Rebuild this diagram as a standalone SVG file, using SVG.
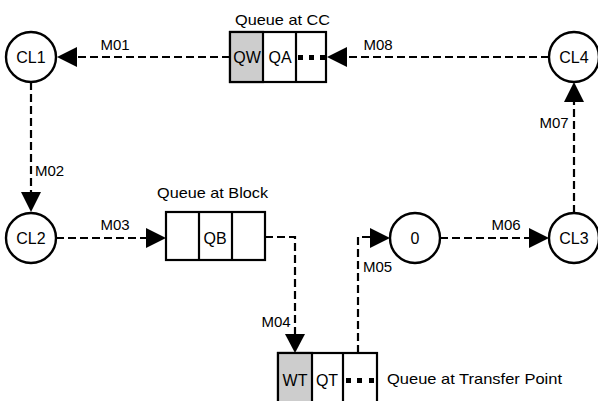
<svg xmlns="http://www.w3.org/2000/svg" width="598" height="401" viewBox="0 0 598 401">
<defs>
<style>
.node{fill:#fff;stroke:#000;stroke-width:2.4}
.box{fill:#fff;stroke:#000;stroke-width:2.2}
.shade{fill:#cdcdcd;stroke:#000;stroke-width:2.2}
.c{fill:none;stroke:#000;stroke-width:2.2;stroke-dasharray:8 4}
.ah{fill:#000}
text{font-family:"Liberation Sans",Arial,sans-serif;font-size:15px;fill:#000}
.n{font-size:16px}
.m{text-anchor:middle}
</style>
</defs>
<rect width="598" height="401" fill="#fff"/>
<g id="connectors">
<path class="c" d="M230,57 H76"/>
<polygon class="ah" points="57,57 77,47 77,67"/>
<path class="c" d="M549,57 H347"/>
<polygon class="ah" points="327,57 347,47 347,67"/>
<path class="c" d="M574,213 V102"/>
<polygon class="ah" points="574,82 564,102 584,102"/>
<path class="c" d="M31,82 V192"/>
<polygon class="ah" points="31,212 21,192 41,192"/>
<path class="c" d="M56,238 H147"/>
<polygon class="ah" points="166,238 146,228 146,248"/>
<path class="c" d="M265,237 H295 V335"/>
<polygon class="ah" points="295,353 285,334 305,334"/>
<path class="c" d="M358,353 V237 H371"/>
<polygon class="ah" points="390,238 370,228 370,248"/>
<path class="c" d="M440,238 H530"/>
<polygon class="ah" points="549,238 529,228 529,248"/>
<text x="115" y="50" class="m">M01</text>
<text x="378" y="50" class="m">M08</text>
<text x="35" y="176">M02</text>
<text x="115" y="230" class="m">M03</text>
<text x="276" y="327" class="m">M04</text>
<text x="363" y="272">M05</text>
<text x="506" y="230" class="m">M06</text>
<text x="554" y="128" class="m">M07</text>
</g>
<g id="CL1"><circle class="node" cx="31" cy="57" r="25"/><text x="31" y="63" class="m n">CL1</text></g>
<g id="CL4"><circle class="node" cx="574" cy="57" r="25"/><text x="574" y="63" class="m n">CL4</text></g>
<g id="CL2"><circle class="node" cx="31" cy="238" r="25"/><text x="31" y="244" class="m n">CL2</text></g>
<g id="CL3"><circle class="node" cx="574" cy="238" r="25"/><text x="574" y="244" class="m n">CL3</text></g>
<g id="N0"><circle class="node" cx="415" cy="238" r="25"/><text x="415" y="244" class="m n">0</text></g>
<g id="QueueCC">
<text x="235" y="25" textLength="95" lengthAdjust="spacingAndGlyphs">Queue at CC</text>
<rect class="box" x="230" y="32" width="96" height="50"/>
<rect class="shade" x="230" y="32" width="33" height="50"/>
<line x1="296" y1="32" x2="296" y2="82" stroke="#000" stroke-width="2.2"/>
<text x="247" y="63" class="m n">QW</text>
<text x="280" y="63" class="m n">QA</text>
<rect x="298" y="55" width="5" height="5"/><rect x="309" y="55" width="5" height="5"/><rect x="320" y="55" width="5" height="5"/>
</g>
<g id="QueueBlock">
<text x="157" y="198" textLength="111" lengthAdjust="spacingAndGlyphs">Queue at Block</text>
<rect class="box" x="166" y="212" width="99" height="48"/>
<line x1="199" y1="212" x2="199" y2="260" stroke="#000" stroke-width="2.2"/>
<line x1="232" y1="212" x2="232" y2="260" stroke="#000" stroke-width="2.2"/>
<text x="215" y="244" class="m n">QB</text>
</g>
<g id="QueueTransfer">
<rect class="box" x="278" y="353" width="99" height="60"/>
<rect class="shade" x="278" y="353" width="34" height="60"/>
<line x1="343" y1="353" x2="343" y2="413" stroke="#000" stroke-width="2.2"/>
<text x="295" y="386" class="m n">WT</text>
<text x="327" y="386" class="m n">QT</text>
<rect x="346" y="378" width="5" height="5"/><rect x="357" y="378" width="5" height="5"/><rect x="369" y="378" width="5" height="5"/>
<text x="387" y="384" textLength="175" lengthAdjust="spacingAndGlyphs">Queue at Transfer Point</text>
</g>
</svg>
